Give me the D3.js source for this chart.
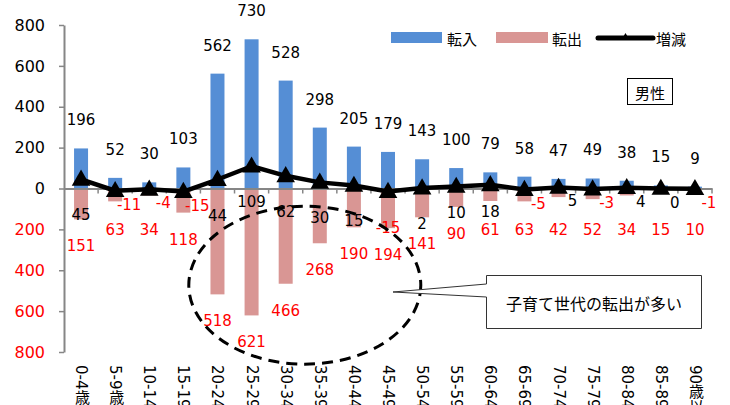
<!DOCTYPE html>
<html>
<head>
<meta charset="utf-8">
<script src="https://cdn.jsdelivr.net/npm/d3@7"></script>
<style>
  html, body { margin: 0; padding: 0; background: #fff; }
  svg { display: block; }
  .num { font-family: "DejaVu Sans", Verdana, sans-serif; font-size: 15px; }
  .jp { font-family: "Noto Sans CJK JP", sans-serif; }
</style>
</head>
<body>
<svg id="chart" width="730" height="405"></svg>
<script>
// 年齢階級別の転入・転出・増減(男性)
const ageGroups = ["0-4歳", "5-9歳", "10-14歳", "15-19歳", "20-24歳", "25-29歳", "30-34歳",
  "35-39歳", "40-44歳", "45-49歳", "50-54歳", "55-59歳", "60-64歳", "65-69歳",
  "70-74歳", "75-79歳", "80-84歳", "85-89歳", "90歳以上"];
const moveIn  = [196, 52, 30, 103, 562, 730, 528, 298, 205, 179, 143, 100, 79, 58, 47, 49, 38, 15, 9];
const moveOut = [151, 63, 34, 118, 518, 621, 466, 268, 190, 194, 141, 90, 61, 63, 42, 52, 34, 15, 10];
const netChange = [45, -11, -4, -15, 44, 109, 62, 30, 15, -15, 2, 10, 18, -5, 5, -3, 4, 0, -1];
const yTicks = [-800, -600, -400, -200, 0, 200, 400, 600, 800];

const COLOR_IN = "#558ED5", COLOR_OUT = "#D99694", RED = "#FF0000", GRAY = "#868686";

const rows = ageGroups.map((g, i) => ({ g, inV: moveIn[i], outV: moveOut[i], net: netChange[i] }));

const svg = d3.select("#chart");
const x = d3.scaleBand().domain(ageGroups).range([64, 712]).paddingInner(0).paddingOuter(0);
const y = d3.scaleLinear().domain([-800, 800]).range([352, 25]);
const xc = g => x(g) + x.bandwidth() / 2;
const barW = 14;

// bars: 転入 upward, 転出 downward
svg.append("g").selectAll("rect").data(rows).join("rect")
  .attr("x", d => xc(d.g) - barW / 2).attr("width", barW)
  .attr("y", d => y(d.inV)).attr("height", d => y(0) - y(d.inV))
  .attr("fill", COLOR_IN);
svg.append("g").selectAll("rect").data(rows).join("rect")
  .attr("x", d => xc(d.g) - barW / 2).attr("width", barW)
  .attr("y", y(0)).attr("height", d => y(-d.outV) - y(0))
  .attr("fill", COLOR_OUT);

// vertical value axis (absolute values, negative side in red)
const yAxis = svg.append("g").attr("transform", `translate(${x.range()[0]},0)`)
  .call(d3.axisLeft(y).tickValues(yTicks).tickFormat(d => Math.abs(d)).tickSize(5).tickSizeOuter(0).tickPadding(14));
yAxis.select(".domain").attr("stroke", GRAY).attr("stroke-width", 2);
yAxis.selectAll(".tick line").attr("stroke", GRAY).attr("stroke-width", 1.5);
yAxis.selectAll(".tick text").attr("class", "num").attr("fill", d => d < 0 ? RED : "#000")
  .style("font-size", "16px");

// zero line with category tick marks
const zero = svg.append("g").attr("transform", `translate(0,${y(0)})`)
  .call(d3.axisBottom(x).tickSize(0).tickFormat(""));
zero.select(".domain").attr("stroke", GRAY).attr("stroke-width", 2);
svg.append("g").selectAll("line").data(ageGroups.slice(1).concat([null])).join("line")
  .attr("x1", d => d === null ? x.range()[1] : x(d)).attr("x2", d => d === null ? x.range()[1] : x(d))
  .attr("y1", y(0)).attr("y2", y(0) + 5)
  .attr("stroke", GRAY).attr("stroke-width", 1.5);

// category labels along the bottom, set vertically
svg.append("g").selectAll("text").data(ageGroups).join("text")
  .attr("class", "num")
  .attr("x", d => xc(d)).attr("y", y(-800) + 13)
  .style("writing-mode", "vertical-rl")
  .style("font-family", "'DejaVu Sans', 'Noto Sans CJK JP', sans-serif")
  .attr("fill", "#000")
  .text(d => d);

// 増減 line with triangle markers
const line = d3.line().x(d => xc(d.g)).y(d => y(d.net));
svg.append("path").datum(rows).attr("d", line)
  .attr("fill", "none").attr("stroke", "#000").attr("stroke-width", 4.5).attr("stroke-linejoin", "round");
const tri = d3.symbol().type(d3.symbolTriangle).size(150);
svg.append("g").selectAll("path").data(rows).join("path")
  .attr("d", tri).attr("transform", d => `translate(${xc(d.g)},${y(d.net) + 1})`)
  .attr("fill", "#000");

// value labels
svg.append("g").selectAll("text").data(rows).join("text")
  .attr("class", "num").attr("text-anchor", "middle").attr("dominant-baseline", "central")
  .attr("x", d => xc(d.g)).attr("y", d => y(d.inV) - 28)
  .attr("fill", "#000").text(d => d.inV);
svg.append("g").selectAll("text").data(rows).join("text")
  .attr("class", "num").attr("text-anchor", "middle").attr("dominant-baseline", "central")
  .attr("x", d => xc(d.g)).attr("y", d => Math.max(y(-d.outV) + 27, y(0) + 41))
  .attr("fill", RED).text(d => d.outV);
svg.append("g").selectAll("text").data(rows).join("text")
  .attr("class", "num").attr("text-anchor", "middle").attr("dominant-baseline", "central")
  .attr("x", d => xc(d.g) + (d.outV >= 120 || d.net > 5 ? 0 : 14))
  .attr("y", d => y(d.net) + (d.outV >= 120 ? 36 : d.net > 5 ? 27 : 14))
  .attr("fill", d => d.net < 0 ? RED : "#000").text(d => d.net);

// legend
const legend = svg.append("g").attr("class", "jp").style("font-size", "15px");
legend.append("rect").attr("x", 391).attr("y", 32).attr("width", 51).attr("height", 11).attr("fill", COLOR_IN);
legend.append("text").attr("x", 447).attr("y", 38).attr("dominant-baseline", "central").text("転入");
legend.append("rect").attr("x", 496).attr("y", 32).attr("width", 52).attr("height", 11).attr("fill", COLOR_OUT);
legend.append("text").attr("x", 552).attr("y", 38).attr("dominant-baseline", "central").text("転出");
legend.append("line").attr("x1", 598).attr("x2", 653).attr("y1", 38).attr("y2", 38)
  .attr("stroke", "#000").attr("stroke-width", 5).attr("stroke-linecap", "round");
legend.append("path").attr("d", d3.symbol().type(d3.symbolTriangle).size(22))
  .attr("transform", "translate(625.5,37)").attr("fill", "#000");
legend.append("text").attr("x", 656).attr("y", 38).attr("dominant-baseline", "central").text("増減");

// 男性 tag
svg.append("rect").attr("x", 627.5).attr("y", 78.5).attr("width", 45).attr("height", 26)
  .attr("fill", "#fff").attr("stroke", "#000").attr("stroke-width", 1);
svg.append("text").attr("class", "jp").style("font-size", "15px")
  .attr("x", 650).attr("y", 92).attr("text-anchor", "middle").attr("dominant-baseline", "central")
  .text("男性");

// dashed ellipse around the child-rearing age groups
svg.append("ellipse")
  .attr("cx", xc("35-39歳") - 15).attr("cy", y(-473))
  .attr("rx", 116).attr("ry", 79)
  .attr("fill", "none").attr("stroke", "#000").attr("stroke-width", 3).attr("stroke-dasharray", "11 7");

// callout box
const bx0 = 486.5, bx1 = 701.5, by0 = 275.5, by1 = 328.5, tipX = 393, tipY = 292;
svg.append("path")
  .attr("d", `M${bx0},${by0} H${bx1} V${by1} H${bx0} V297 L${tipX},${tipY} L${bx0},284 Z`)
  .attr("fill", "#fff").attr("stroke", "#333").attr("stroke-width", 1);
svg.append("text").attr("class", "jp").style("font-size", "16px")
  .attr("x", (bx0 + bx1) / 2).attr("y", 303).attr("text-anchor", "middle").attr("dominant-baseline", "central")
  .text("子育て世代の転出が多い");
</script>
</body>
</html>
